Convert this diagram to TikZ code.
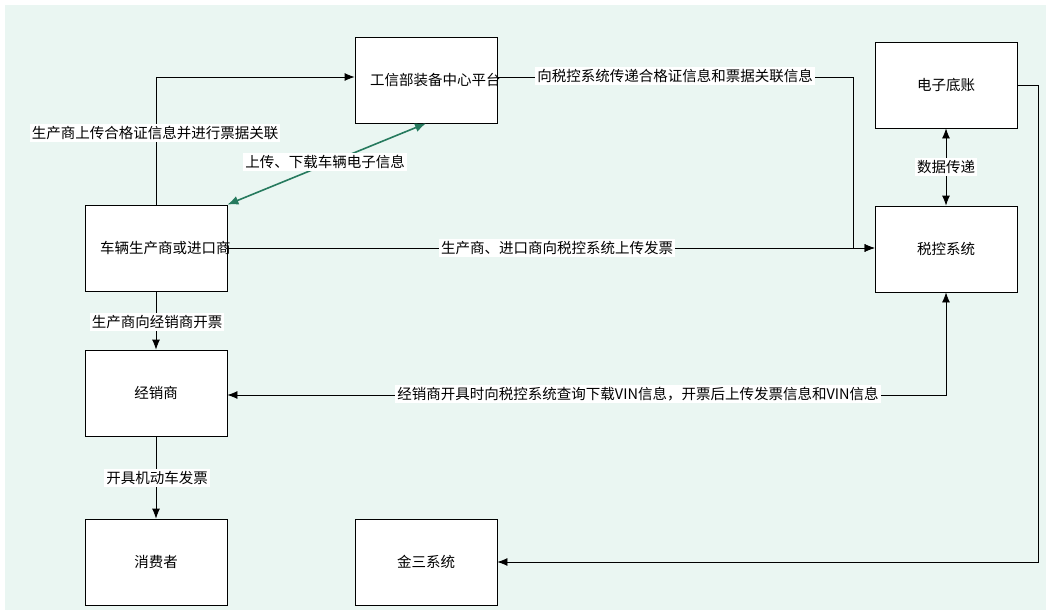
\documentclass[tikz,border=0pt]{standalone}
\usepackage{fontspec}
\setmainfont{Noto Sans CJK SC}
\usetikzlibrary{arrows.meta}
\begin{document}
\begin{tikzpicture}[x=1pt,y=-1pt,
  box/.style={draw=black,fill=white,line width=0.8pt,minimum width=142pt,minimum height=86pt,align=center,text width=112pt,font=\fontsize{14.5}{19}\selectfont},
  ar/.style={line width=0.8pt,-{Latex[length=10pt,width=8pt]}},
  dar/.style={line width=0.8pt,{Latex[length=10pt,width=8pt]}-{Latex[length=10pt,width=8pt]}},
  lab/.style={fill=white,inner sep=2pt,font=\fontsize{14.5}{17}\selectfont}]
\useasboundingbox (0,0) rectangle (1051,615);
\fill[white] (0,0) rectangle (1051,615);
\fill[fill={rgb,255:red,234;green,246;blue,242}] (5,5) rectangle (1046,610);
\node[box] (gx) at (426,80) {工信部装备中心平台};
\node[box] (dz) at (946,85) {电子底账};
\node[box] (cl) at (156,248) {车辆生产商或进口商};
\node[box] (sk) at (946,249) {税控系统};
\node[box] (jx) at (156,393) {经销商};
\node[box] (xf) at (156,562) {消费者};
\node[box] (js) at (426,562) {金三系统};
\coordinate (c1) at (156,77);
\draw[ar] (cl.north) -- (c1) -- (gx.west |- c1);
\node[lab] at (155,133) {生产商上传合格证信息并进行票据关联};
\draw[line width=1.6pt,{Latex[length=11pt,width=9pt]}-{Latex[length=11pt,width=9pt]},draw={rgb,255:red,38;green,122;blue,94},fill={rgb,255:red,38;green,122;blue,94}] (cl.north east) -- (gx.south);
\node[lab] at (325,162) {上传、下载车辆电子信息};
\coordinate (c2) at (853,77);
\draw[ar] (gx.east |- c2) -- (c2) -- (853,248) -- (sk.west |- 0,248);
\node[lab] at (675,76) {向税控系统传递合格证信息和票据关联信息};
\draw[ar] (cl.east) -- (cl.east -| sk.west);
\node[lab] at (557,248) {生产商、进口商向税控系统上传发票};
\draw[ar] (cl.south) -- (jx.north);
\node[lab] at (157,322) {生产商向经销商开票};
\coordinate (c3) at (946,395);
\draw[dar] (sk.south) -- (c3) -- (jx.east |- c3);
\node[lab] at (638,394) {经销商开具时向税控系统查询下载VIN信息，开票后上传发票信息和VIN信息};
\draw[ar] (jx.south) -- (xf.north);
\node[lab] at (157,478) {开具机动车发票};
\draw[dar] (dz.south) -- (sk.north);
\node[lab] at (946,167) {数据传递};
\coordinate (c4) at (1038,85);
\draw[ar] (dz.east) -- (c4) -- (1038,562) -- (js.east);
\end{tikzpicture}
\end{document}
